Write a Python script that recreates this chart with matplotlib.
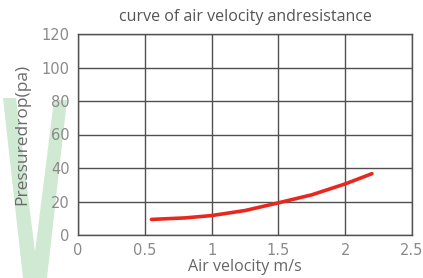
import matplotlib
matplotlib.use("Agg")
import matplotlib.pyplot as plt
from matplotlib.patches import Polygon

velocity = [0.55, 0.8, 1.0, 1.25, 1.5, 1.75, 2.0, 2.2]
pressure = [9.3, 10.2, 11.6, 14.6, 19.2, 24.0, 30.5, 36.6]
xticks = [0, 0.5, 1, 1.5, 2, 2.5]
xtick_labels = ["0", "0.5", "1", "1.5", "2", "2.5"]
yticks = [0, 20, 40, 60, 80, 100, 120]

W, H = 423, 278
fig = plt.figure(figsize=(W / 100, H / 100), dpi=100)
fig.patch.set_facecolor("white")

# green V watermark in a background axes
bg = fig.add_axes([0, 0, 1, 1], zorder=-10)
bg.set_xlim(0, W)
bg.set_ylim(H, 0)
bg.axis("off")
vpts = [(3, 98), (16, 98), (35, 252), (54, 100), (67, 100), (47, 278), (23, 278)]
bg.add_patch(Polygon(vpts, closed=True, facecolor="#cfe9d2", edgecolor="none"))

ax = fig.add_axes([78 / W, 1 - 235 / H, (412 - 78) / W, (235 - 34) / H], zorder=1)
ax.set_facecolor("none")
ax.plot(velocity, pressure, color="#e8281e", lw=2.6, solid_capstyle="round", zorder=3)
ax.set_xlim(0, 2.5)
ax.set_ylim(0, 120)
ax.set_xticks(xticks)
ax.set_xticklabels(xtick_labels)
ax.set_yticks(yticks)
ax.grid(True, color="#505050", lw=1.0)
ax.tick_params(length=0, labelsize=10.5, labelcolor="#8a8a8a", pad=6)
for s in ax.spines.values():
    s.set_color("#505050")
    s.set_linewidth(1.0)

fig.text(245 / W, 1 - 17 / H, "curve of air velocity andresistance", ha="center", va="center",
         fontsize=11.5, color="#555555", family="Open Sans", zorder=2)
fig.text(245 / W, 1 - 267 / H, "Air velocity m/s", ha="center", va="center",
         fontsize=11.5, color="#666666", family="Open Sans", zorder=2)
fig.text(22 / W, 1 - 134 / H, "Pressuredrop(pa)", ha="center", va="center", rotation=90,
         fontsize=12.5, color="#6a6a6a", family="Open Sans", zorder=2)

fig.savefig("out.png", dpi=100)
